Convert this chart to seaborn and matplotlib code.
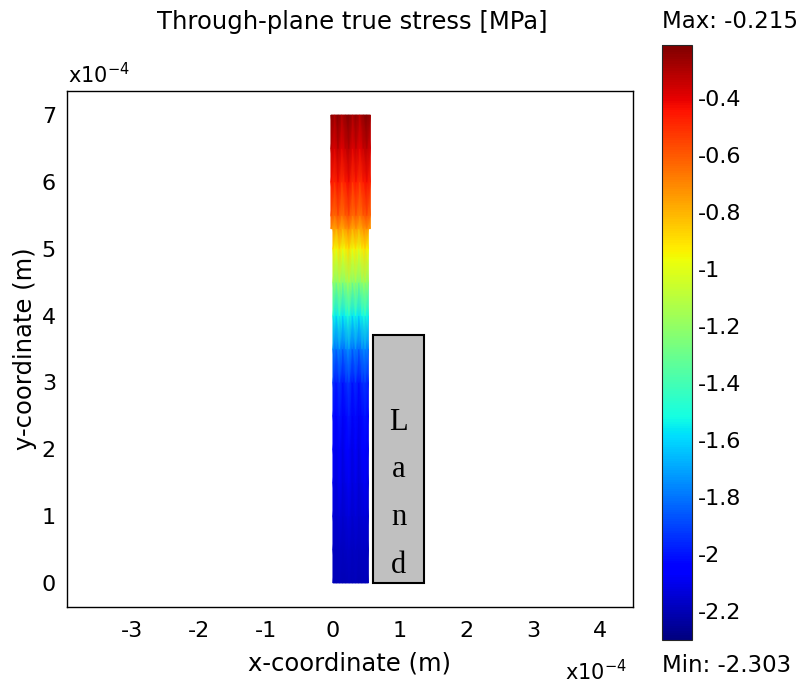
import numpy as np
import matplotlib
matplotlib.use("Agg")
import matplotlib.pyplot as plt
import matplotlib.colors as mcolors
import seaborn as sns

sns.set_style("white")
plt.rcParams['font.family'] = ['DejaVu Sans']
plt.rcParams['mathtext.default'] = 'regular'
plt.rcParams['text.color'] = 'black'
plt.rcParams['axes.labelcolor'] = 'black'
plt.rcParams['xtick.color'] = 'black'
plt.rcParams['ytick.color'] = 'black'

# ---- data (lengths in units of 1e-4 m, stress in MPa) ----
title = "Through-plane true stress [MPa]"
stress_max = -0.215
stress_min = -2.303
y_levels = [0.0, 0.5, 1.0, 1.5, 2.0, 2.5, 3.0, 3.5, 4.0, 4.5, 5.0, 5.3, 5.5, 6.0, 6.5, 7.0]
stress_profile = [-2.20, -2.18, -2.15, -2.12, -2.09, -2.05, -1.98, -1.80, -1.55,
                  -1.22, -0.95, -0.76, -0.63, -0.48, -0.37, -0.27]
x_nodes = [0.0, 0.05, 0.10, 0.15, 0.20, 0.25, 0.30, 0.35, 0.40, 0.45, 0.50, 0.55]
col_offsets = [0.04, -0.02, 0.05, -0.03, 0.02, 0.06, -0.03, 0.03, -0.04, 0.02, 0.05, -0.01]
split_y = 5.3
lower_x = (0.0, 0.53)
upper_x = (-0.03, 0.56)
land_x = (0.60, 1.36)
land_y = (0.0, 3.71)
land_letters = ["L", "a", "n", "d"]
land_baselines = [2.29, 1.59, 0.87, 0.15]
x_ticks = [-3, -2, -1, 0, 1, 2, 3, 4]
y_ticks = [0, 1, 2, 3, 4, 5, 6, 7]
cbar_ticks = [-0.4, -0.6, -0.8, -1.0, -1.2, -1.4, -1.6, -1.8, -2.0, -2.2]

W, H = 808, 689
fig = plt.figure(figsize=(W / 100, H / 100), dpi=100)
ax = fig.add_axes([67 / W, (H - 607) / H, 566 / W, 516 / H])
norm = mcolors.Normalize(vmin=stress_min, vmax=stress_max)
cmap = plt.get_cmap('jet')

yl = np.array(y_levels)
sp = np.array(stress_profile)
xn = np.array(x_nodes)
off = np.array(col_offsets)
xn01 = (xn - xn.min()) / (xn.max() - xn.min())

def draw_block(mask, xr):
    ys = yl[mask]
    xs = xr[0] + xn01 * (xr[1] - xr[0])
    X, Y = np.meshgrid(xs, ys)
    Z = sp[mask][:, None] + off[None, :] * np.clip((ys[:, None] - 0.3), 0.3, 2.0) / 2.0
    ax.pcolormesh(X, Y, Z, cmap=cmap, norm=norm, shading='gouraud')

draw_block(yl <= split_y, lower_x)
draw_block(yl >= split_y, upper_x)

ax.add_patch(plt.Rectangle((land_x[0], land_y[0]), land_x[1] - land_x[0], land_y[1] - land_y[0],
                           facecolor='#c0c0c0', edgecolor='black', linewidth=1.5, zorder=3))
xc = (land_x[0] + land_x[1]) / 2
for ch, yb in zip(land_letters, land_baselines):
    ax.text(xc, yb, ch, ha='center', va='baseline', fontsize=22,
            family=['Liberation Serif', 'DejaVu Serif'], zorder=4)

ax.set_xlim(-3.98, 4.49)
ax.set_ylim(-0.36, 7.36)
ax.set_xticks(x_ticks)
ax.set_yticks(y_ticks)
ax.set_xticklabels([str(t) for t in x_ticks])
ax.set_yticklabels([str(t) for t in y_ticks])
ax.tick_params(axis='both', length=0, labelsize=16)
ax.tick_params(axis='x', pad=10)
ax.tick_params(axis='y', pad=8)
for s in ax.spines.values():
    s.set_linewidth(1.0)
    s.set_color('black')
ax.set_xlabel("x-coordinate (m)", fontsize=17.5, labelpad=8)
ax.set_ylabel("y-coordinate (m)", fontsize=17.5, labelpad=3)

fig.text(352 / W, 1 - 22 / H, title, ha='center', va='center', fontsize=17.5)
fig.text(68 / W, 1 - 75 / H, r'x10$^{-4}$', ha='left', va='center', fontsize=15)
fig.text(565 / W, 1 - 672 / H, r'x10$^{-4}$', ha='left', va='center', fontsize=15)

# colorbar
cax = fig.add_axes([662 / W, (H - 640) / H, 30 / W, 595 / H])
sm = matplotlib.cm.ScalarMappable(norm=norm, cmap=cmap)
cb = fig.colorbar(sm, cax=cax, ticks=cbar_ticks)
cb.ax.set_yticklabels(['%g' % t for t in cbar_ticks])
cb.outline.set_linewidth(0.8)
cax.tick_params(axis='y', which='both', direction='in', left=True, right=True,
                length=6, width=0.8, labelsize=16, pad=4)
fig.text(662 / W, 1 - 22 / H, "Max: %.3f" % stress_max, ha='left', va='center', fontsize=16.5)
fig.text(662 / W, 1 - 665 / H, "Min: %.3f" % stress_min, ha='left', va='center', fontsize=16.5)

fig.savefig("out.png", dpi=100, facecolor='white')
